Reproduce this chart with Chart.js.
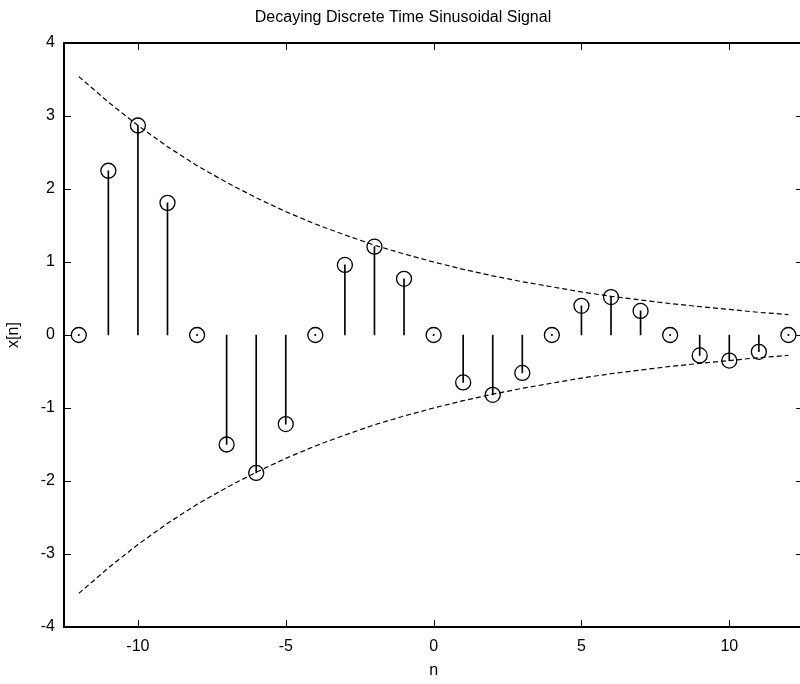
<!DOCTYPE html>
<html>
<head>
<meta charset="utf-8">
<script src="https://cdn.jsdelivr.net/npm/chart.js@4.4.1/dist/chart.umd.min.js"></script>
<style>
  html, body { margin: 0; padding: 0; background: #fff; overflow: hidden; }
  #wrap { width: 800px; height: 684px; overflow: hidden; }
</style>
</head>
<body>
<div id="wrap"><canvas id="stemChart" width="812" height="684"></canvas></div>
<script>
// sample index n
const nValues = [-12, -11, -10, -9, -8, -7, -6, -5, -4, -3, -2, -1, 0, 1, 2, 3, 4, 5, 6, 7, 8, 9, 10, 11, 12];
// x[n]
const xValues = [0, 2.25, 2.87, 1.81, 0, -1.50, -1.89, -1.22, 0, 0.96, 1.21, 0.77, 0, -0.65, -0.82, -0.52, 0, 0.40, 0.52, 0.33, 0, -0.28, -0.35, -0.23, 0];
// dashed envelope, upper and lower
const upperEnv = [3.54, 3.19, 2.87, 2.58, 2.32, 2.09, 1.88, 1.69, 1.52, 1.37, 1.23, 1.11, 1.0, 0.9, 0.81, 0.73, 0.66, 0.59, 0.53, 0.48, 0.43, 0.39, 0.35, 0.31, 0.28];
const lowerEnv = [-3.54, -3.19, -2.87, -2.58, -2.32, -2.09, -1.88, -1.69, -1.52, -1.37, -1.23, -1.11, -1.0, -0.9, -0.81, -0.73, -0.66, -0.59, -0.53, -0.48, -0.43, -0.39, -0.35, -0.31, -0.28];
// tick labels
const xTicks = [-10, -5, 0, 5, 10];
const yTicks = [-4, -3, -2, -1, 0, 1, 2, 3, 4];

const FONT = "'Liberation Sans', Arial, sans-serif";

const pts = (ys) => nValues.map((n, i) => ({ x: n, y: ys[i] }));
const zeroPts = nValues.filter((n, i) => xValues[i] === 0).map((n) => ({ x: n, y: 0 }));

// MATLAB style box with inward ticks on all sides
const boxPlugin = {
  id: "matlabBox",
  afterDatasetsDraw(chart) {
    const { ctx, chartArea: a, scales } = chart;
    const len = 7;
    ctx.save();
    ctx.strokeStyle = "#000";
    ctx.lineWidth = 1;
    ctx.beginPath();
    scales.x.ticks.forEach((t) => {
      const px = Math.round(scales.x.getPixelForValue(t.value)) + 0.5;
      ctx.moveTo(px, a.bottom); ctx.lineTo(px, a.bottom - len);
      ctx.moveTo(px, a.top); ctx.lineTo(px, a.top + len);
    });
    scales.y.ticks.forEach((t) => {
      const py = Math.round(scales.y.getPixelForValue(t.value)) + 0.5;
      ctx.moveTo(a.left, py); ctx.lineTo(a.left + len, py);
      ctx.moveTo(a.right, py); ctx.lineTo(a.right - len, py);
    });
    ctx.stroke();
    ctx.lineWidth = 2;
    ctx.strokeRect(a.left, a.top, a.right - a.left, a.bottom - a.top);
    ctx.restore();
  },
};

new Chart(document.getElementById("stemChart").getContext("2d"), {
  type: "bar",
  data: {
    datasets: [
      {
        type: "line",
        data: pts(upperEnv),
        borderColor: "#000",
        borderWidth: 1.2,
        borderDash: [5, 3],
        pointRadius: 0,
        tension: 0,
      },
      {
        type: "line",
        data: pts(lowerEnv),
        borderColor: "#000",
        borderWidth: 1.2,
        borderDash: [5, 3],
        pointRadius: 0,
        tension: 0,
      },
      {
        type: "bar",
        data: pts(xValues),
        backgroundColor: "#000",
        borderWidth: 0,
        barThickness: 1,
      },
      {
        type: "scatter",
        data: zeroPts,
        pointRadius: 1,
        pointBackgroundColor: "#000",
        pointBorderWidth: 0,
      },
      {
        type: "scatter",
        data: pts(xValues),
        pointStyle: "circle",
        pointRadius: 7.5,
        pointBorderColor: "#000",
        pointBackgroundColor: "rgba(0,0,0,0)",
        pointBorderWidth: 1.3,
        clip: false,
      },
    ],
  },
  options: {
    responsive: false,
    animation: false,
    layout: { padding: { left: 0, right: 6, top: 0, bottom: 0 } },
    scales: {
      x: {
        type: "linear",
        min: -12.5,
        max: 12.5,
        offset: false,
        grid: { display: false, drawTicks: false },
        border: { display: false },
        afterBuildTicks: (s) => { s.ticks = xTicks.map((v) => ({ value: v })); },
        afterFit: (s) => { s.height = 57; },
        ticks: { color: "#000", padding: 10, font: { family: FONT, size: 16 }, maxRotation: 0 },
        title: { display: true, text: "n", color: "#000", font: { family: FONT, size: 16 }, padding: { top: 0, bottom: 4 } },
      },
      y: {
        min: -4,
        max: 4,
        grid: { display: false, drawTicks: false },
        border: { display: false },
        afterBuildTicks: (s) => { s.ticks = yTicks.map((v) => ({ value: v })); },
        afterFit: (s) => { s.width = 64; },
        ticks: { color: "#000", padding: 9, font: { family: FONT, size: 16 } },
        title: { display: true, text: "x[n]", color: "#000", font: { family: FONT, size: 16 }, padding: { top: 4, bottom: 0 } },
      },
    },
    plugins: {
      legend: { display: false },
      tooltip: { enabled: false },
      title: {
        display: true,
        text: "Decaying Discrete Time Sinusoidal Signal",
        color: "#000",
        font: { family: FONT, size: 16, weight: "normal" },
        padding: { top: 8, bottom: 15.8 },
      },
    },
  },
  plugins: [boxPlugin],
});
</script>
</body>
</html>
